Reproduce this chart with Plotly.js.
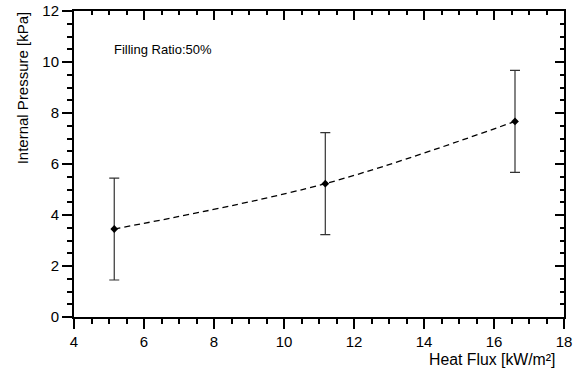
<!DOCTYPE html>
<html><head><meta charset="utf-8">
<script src="https://cdn.plot.ly/plotly-3.0.1.min.js"></script>
<style>html,body{margin:0;padding:0;background:#fff}#chart{width:576px;height:376px}</style>
</head><body><div id="chart"></div>
<script>
const heatFlux = [5.15, 11.18, 16.6];
const pressure = [3.45, 5.23, 7.67];
const pressureErr = [2.0, 2.0, 2.0];
const xTickVals = [4, 6, 8, 10, 12, 14, 16, 18];
const yTickVals = [0, 2, 4, 6, 8, 10, 12];
const xRange = [4, 18];
const yRange = [0, 12];
const xTitle = 'Heat Flux [kW/m²]';
const yTitle = 'Internal Pressure [kPa]';
const note = 'Filling Ratio:50%';

const FONT = 'Liberation Sans, Arial, sans-serif';
const xStep = xTickVals[1] - xTickVals[0];
const yStep = yTickVals[1] - yTickVals[0];

const traces = [
  {
    x: heatFlux, y: pressure, mode: 'lines', type: 'scatter',
    line: {color: '#000', width: 1.3, dash: '6px,4px', shape: 'spline', smoothing: 1},
    hoverinfo: 'skip'
  },
  {
    x: heatFlux, y: pressure, mode: 'markers', type: 'scatter',
    marker: {symbol: 'diamond', size: 6, color: '#000'},
    error_y: {type: 'data', array: pressureErr, visible: true, color: '#333', thickness: 1.2, width: 5}
  },
  {
    x: heatFlux, y: pressure, mode: 'markers', type: 'scatter',
    xaxis: 'x2', yaxis: 'y2', marker: {opacity: 0}, hoverinfo: 'skip'
  }
];

const baseAxis = {
  showgrid: false, zeroline: false, showline: true, linecolor: '#000', linewidth: 2,
  tickcolor: '#000', tickwidth: 2, ticklen: 10, tickmode: 'linear',
  tickfont: {family: FONT, size: 15, color: '#000'}
};

const layout = {
  width: 576, height: 376, showlegend: false,
  margin: {l: 73.5, r: 12, t: 11.3, b: 59},
  paper_bgcolor: '#fff', plot_bgcolor: '#fff',
  xaxis: Object.assign({}, baseAxis, {
    range: xRange, tick0: xTickVals[0], dtick: xStep, ticks: 'outside',
    minor: {dtick: xStep / 4, ticks: 'outside', ticklen: 5, tickwidth: 2, tickcolor: '#000'}
  }),
  yaxis: Object.assign({}, baseAxis, {
    range: yRange, tick0: yTickVals[0], dtick: yStep, ticks: 'outside',
    minor: {dtick: yStep / 4, ticks: 'outside', ticklen: 5, tickwidth: 2, tickcolor: '#000'}
  }),
  xaxis2: Object.assign({}, baseAxis, {
    range: xRange, tick0: xTickVals[0], dtick: xStep, ticks: 'inside', ticklen: 9, side: 'top',
    overlaying: 'x', anchor: 'y', showticklabels: false,
    minor: {dtick: xStep / 4, ticks: 'inside', ticklen: 4, tickwidth: 2, tickcolor: '#000'}
  }),
  yaxis2: Object.assign({}, baseAxis, {
    range: yRange, tick0: yTickVals[0], dtick: yStep, ticks: 'inside', ticklen: 9, side: 'right',
    overlaying: 'y', anchor: 'x', showticklabels: false,
    minor: {dtick: yStep / 4, ticks: 'inside', ticklen: 4, tickwidth: 2, tickcolor: '#000'}
  }),
  annotations: [
    {text: note, xref: 'paper', yref: 'paper', x: (112 - 73.5) / 490.5, y: (317 - 50) / 305.7,
     xanchor: 'left', yanchor: 'middle', showarrow: false, font: {family: FONT, size: 13, color: '#000'}},
    {text: xTitle, xref: 'paper', yref: 'paper', x: (557 - 73.5) / 490.5, y: (317 - 359) / 305.7,
     xanchor: 'right', yanchor: 'middle', showarrow: false, font: {family: FONT, size: 15.8, color: '#000'}},
    {text: yTitle, xref: 'paper', yref: 'paper', x: (22 - 73.5) / 490.5, y: (317 - 88) / 305.7,
     xanchor: 'center', yanchor: 'middle', textangle: -90, showarrow: false, font: {family: FONT, size: 15, color: '#000'}}
  ]
};

Plotly.newPlot('chart', traces, layout, {displayModeBar: false});
</script>
</body></html>
